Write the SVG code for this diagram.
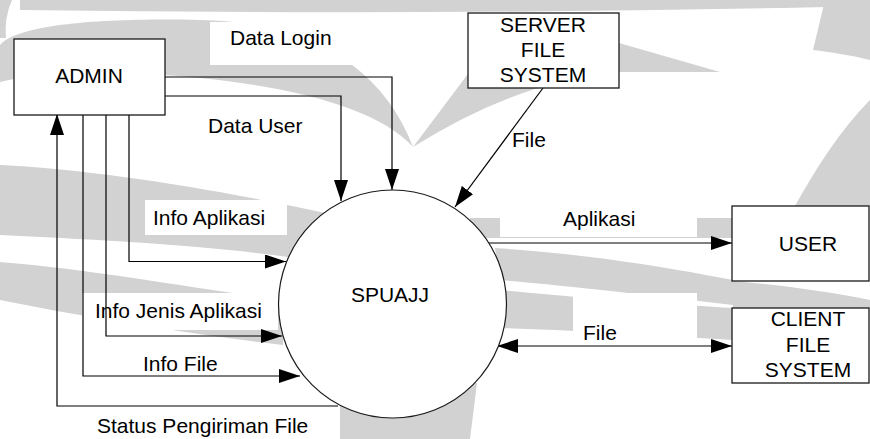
<svg xmlns="http://www.w3.org/2000/svg" width="870" height="439" viewBox="0 0 870 439">
<style>
.wm{fill:#d2d2d2;stroke:none}
.lb{fill:#fff;stroke:none}
.t{font-family:"Liberation Sans",Arial,sans-serif;font-size:21px;fill:#000}
.c{text-anchor:middle}
.box{fill:#fff;stroke:#1a1a1a;stroke-width:1.3}
.ln{fill:none;stroke:#000;stroke-width:1.2}
.arr{marker-end:url(#ah)}
</style>
<defs>
<marker id="ah" markerUnits="userSpaceOnUse" markerWidth="22" markerHeight="15" refX="21" refY="7" orient="auto-start-reverse" viewBox="0 0 22 15">
<path d="M0,0 L21,7 L0,14 Z" fill="#000"/>
</marker>
</defs>
<rect width="870" height="439" fill="#fff"/>
<g id="watermark">
<path class="wm" d="M20,0 H870 V6 Q450,16 20,10 Z"/>
<path class="wm" d="M0,0 H12 Q4,18 6,38 L0,38 Z"/>
<path class="wm" d="M0,45 C20,22 120,18 200,20 C300,22 380,60 413,147 C380,110 300,88 200,78 C120,70 40,72 0,82 Z"/>
<path class="wm" d="M413,147 L480,58 Q560,35 619,43 L720,72 L619,72 Q520,80 413,147 Z"/>
<path class="wm" d="M825,0 H870 V60 C850,55 830,52 813,50 Z"/>
<path class="wm" d="M870,100 C840,130 815,170 795,206 L870,206 Z"/>
<path class="wm" d="M0,165 C100,170 220,190 335,215 L320,262 C220,245 100,240 0,235 Z"/>
<path class="wm" d="M0,262 C100,270 200,290 285,300 L283,345 C200,335 100,320 0,300 Z"/>
<path class="wm" d="M470,218 H733 V238 H470 Z"/>
<path class="wm" d="M495,248 C600,255 680,270 733,280 L733,305 C650,295 560,285 500,280 Z"/>
<path class="wm" d="M733,281 C780,285 830,292 870,300 L870,308 L733,308 Z"/>
<path class="wm" d="M500,290 C600,300 680,305 733,308 L733,340 C650,335 570,330 500,328 Z"/>
<path class="wm" d="M340,383 L477,383 L470,439 L340,439 Z"/>
</g>
<g id="label-boxes">
<rect class="lb" x="210" y="22" width="145" height="43"/>
<rect class="lb" x="200" y="112" width="115" height="28"/>
<rect class="lb" x="145" y="200" width="142" height="35"/>
<rect class="lb" x="82" y="293" width="196" height="37"/>
<rect class="lb" x="135" y="350" width="90" height="28"/>
<rect class="lb" x="90" y="411" width="225" height="28"/>
<rect class="lb" x="500" y="200" width="197" height="37"/>
<rect class="lb" x="508" y="125" width="42" height="28"/>
<rect class="lb" x="573" y="293" width="124" height="50"/>
</g>
<g id="labels">
<text class="t" x="230" y="45">Data Login</text>
<text class="t" x="208" y="133">Data User</text>
<text class="t" x="153" y="225">Info Aplikasi</text>
<text class="t" x="95" y="318">Info Jenis Aplikasi</text>
<text class="t" x="143" y="371">Info File</text>
<text class="t" x="97" y="433">Status Pengiriman File</text>
<text class="t" x="512" y="147">File</text>
<text class="t" x="563" y="226">Aplikasi</text>
<text class="t" x="583" y="340">File</text>
</g>
<g id="connectors">
<path class="ln arr" d="M165,77 H392 V190"/>
<path class="ln arr" d="M165,96 H341 V201"/>
<path class="ln arr" d="M129,115 V261.5 H286"/>
<path class="ln arr" d="M106,115 V336 H282"/>
<path class="ln arr" d="M83,115 V376 H300"/>
<path class="ln arr" d="M338,406 H57 V114"/>
<path class="ln arr" d="M543,88 L455,207"/>
<path class="ln arr" d="M489,243 H732"/>
<path class="ln arr" style="marker-start:url(#ah)" d="M497,346 H732"/>
</g>
<g id="admin">
<rect class="box" x="14" y="39" width="151" height="76"/>
<text class="t c" x="89" y="83">ADMIN</text>
</g>
<g id="spuajj">
<circle class="box" cx="392.5" cy="304" r="114" style="stroke-width:1.2"/>
<text class="t c" x="390" y="302">SPUAJJ</text>
</g>
<g id="server-file-system">
<rect class="box" x="468" y="13" width="151" height="75"/>
<text class="t c" x="543" y="32">SERVER</text>
<text class="t c" x="543" y="57">FILE</text>
<text class="t c" x="543" y="82">SYSTEM</text>
</g>
<g id="user">
<rect class="box" x="732" y="206" width="137" height="75"/>
<text class="t c" x="808" y="251">USER</text>
</g>
<g id="client-file-system">
<rect class="box" x="732" y="308" width="137" height="75"/>
<text class="t c" x="808" y="326">CLIENT</text>
<text class="t c" x="808" y="352">FILE</text>
<text class="t c" x="808" y="377">SYSTEM</text>
</g>
</svg>
